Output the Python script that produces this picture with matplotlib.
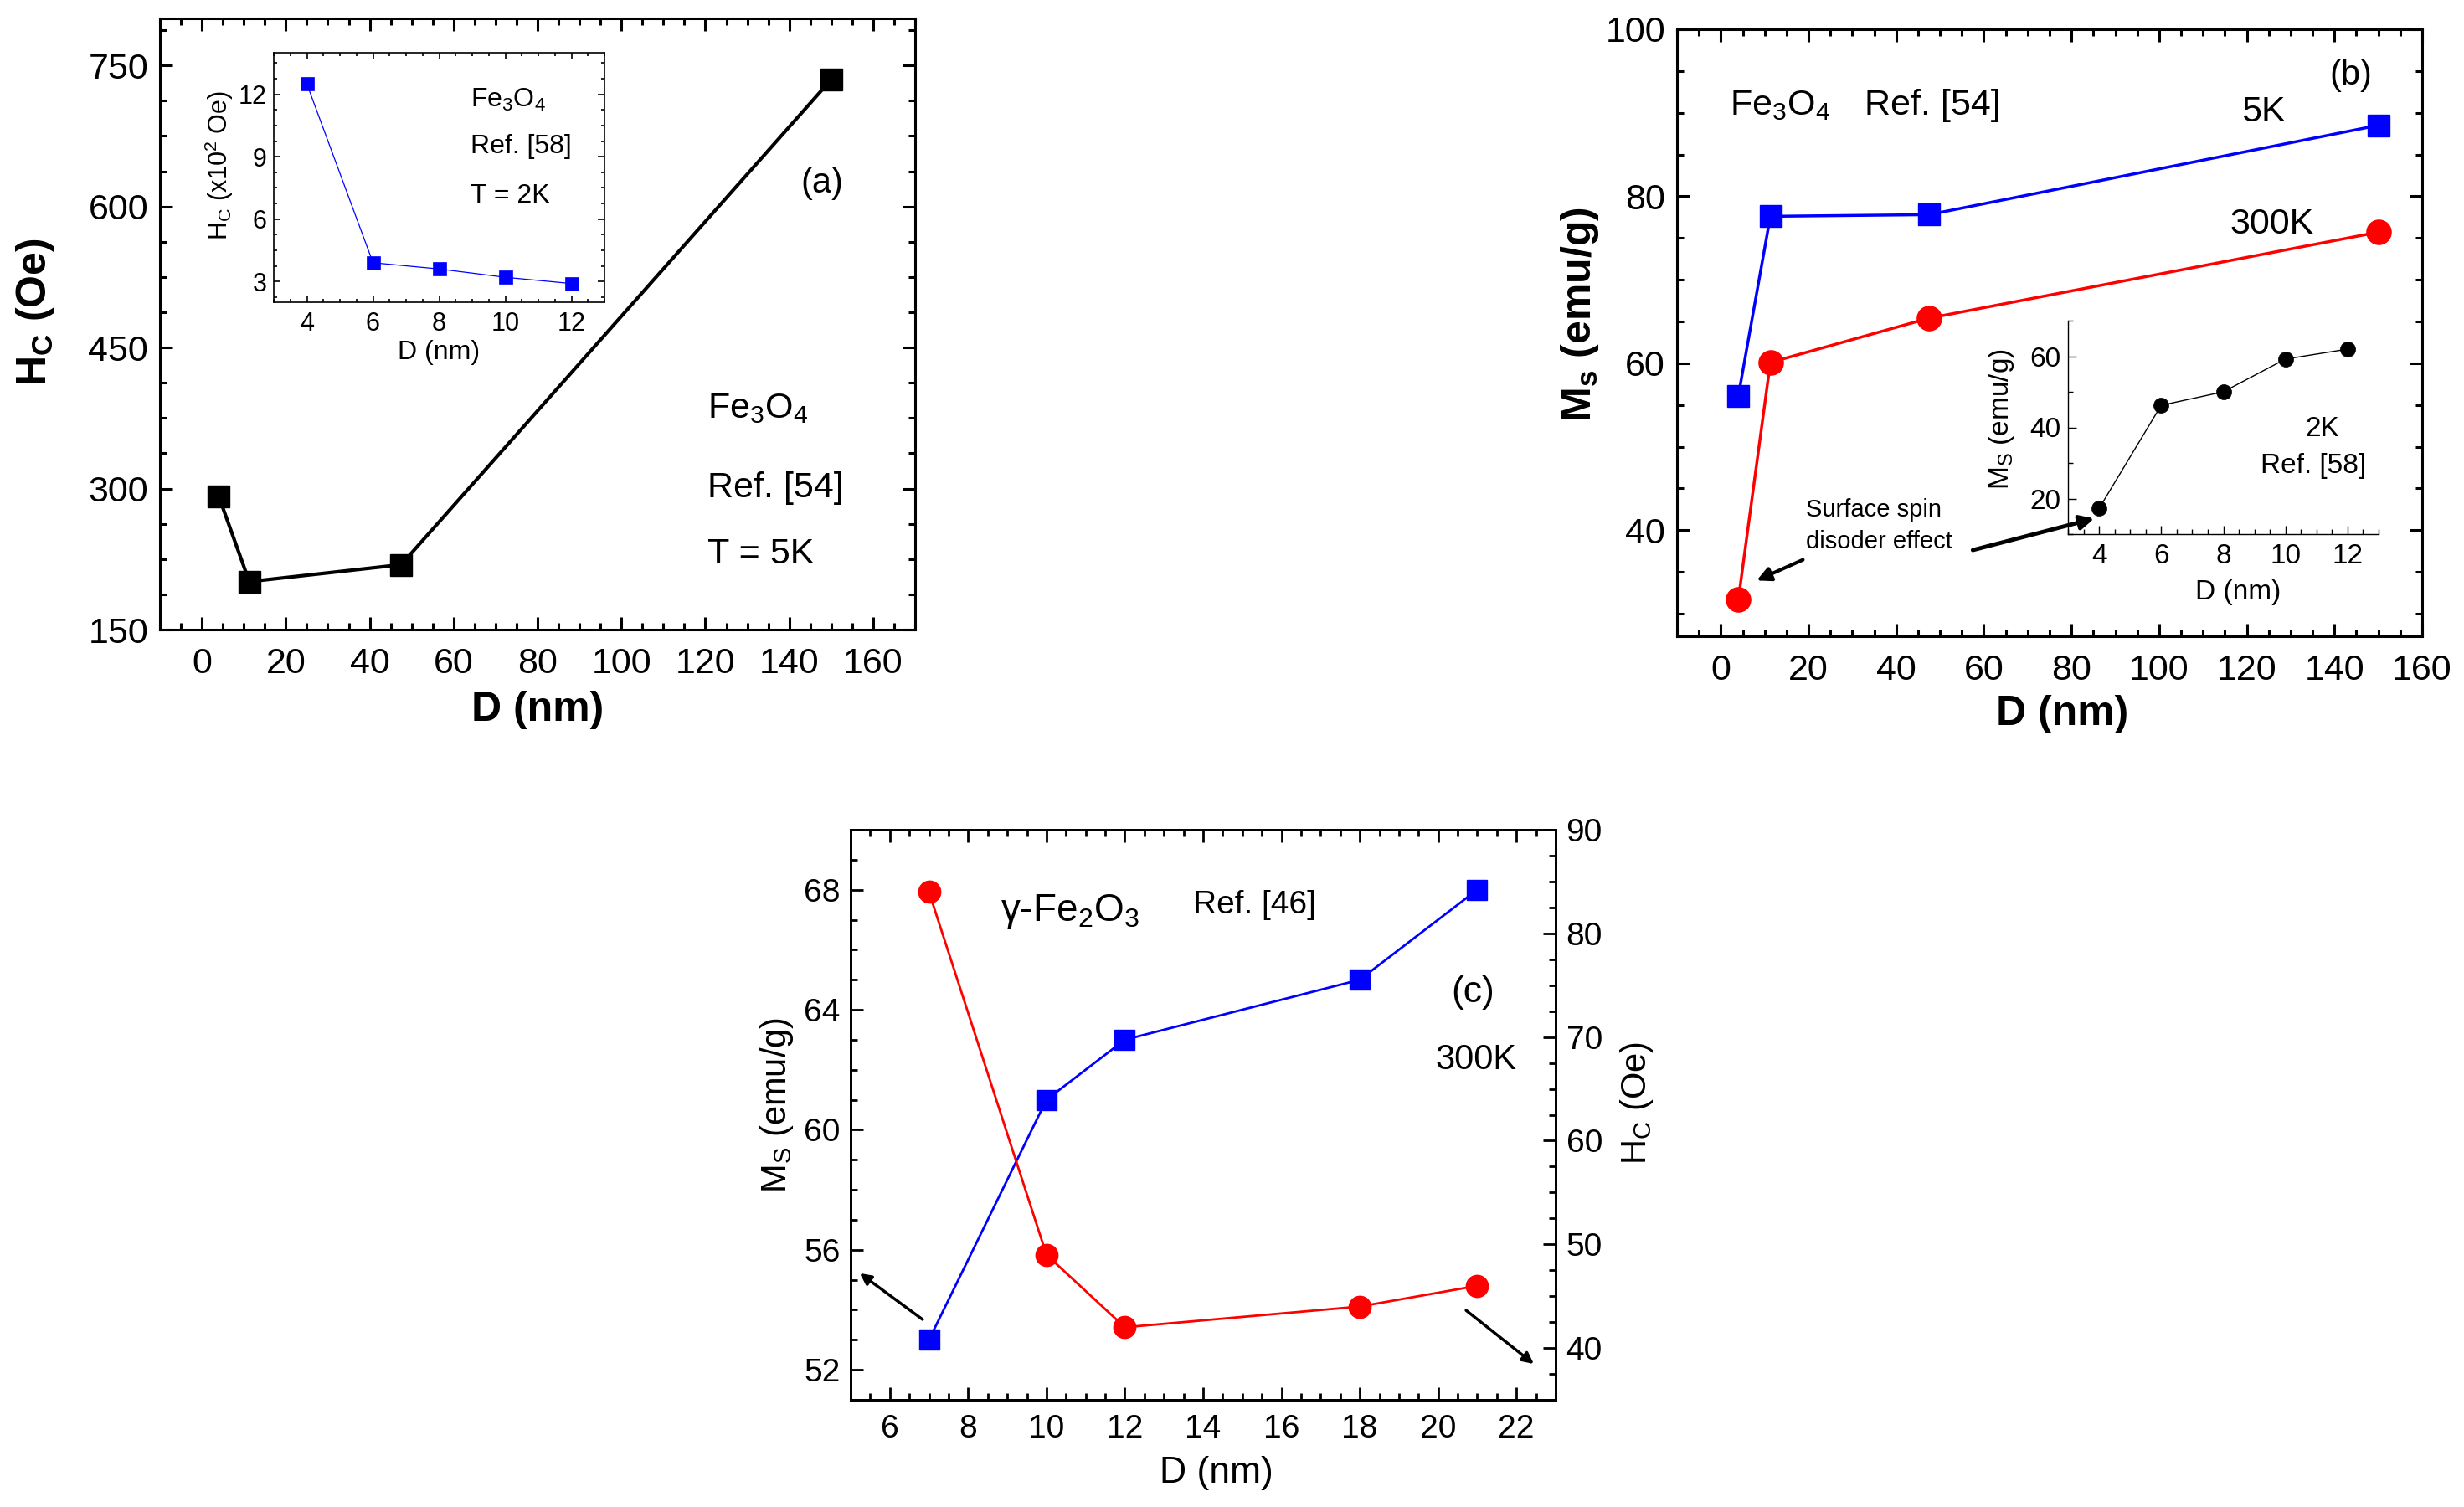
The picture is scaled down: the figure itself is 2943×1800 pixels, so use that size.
import matplotlib
matplotlib.use('Agg')
import matplotlib.pyplot as plt
from matplotlib.ticker import MultipleLocator

plt.rcParams['font.family'] = ['Liberation Sans', 'DejaVu Sans']
plt.rcParams['mathtext.fontset'] = 'custom'
plt.rcParams['mathtext.rm'] = 'Liberation Sans'
plt.rcParams['mathtext.it'] = 'Liberation Sans:italic'
plt.rcParams['mathtext.bf'] = 'Liberation Sans:bold'

# ---------------- data ----------------
# (a) Fe3O4, Ref. [54], T = 5K
a_D = [4, 11.3, 47.5, 150]
a_Hc = [292, 201, 219, 735]
# (a) inset: Fe3O4, Ref. [58], T = 2K
ai_D = [4, 6, 8, 10, 12]
ai_Hc = [12.5, 3.9, 3.6, 3.2, 2.9]
# (b) Fe3O4, Ref. [54]
b_D = [4, 11.3, 47.5, 150]
b_Ms_5K = [56.1, 77.6, 77.8, 88.5]
b_Ms_300K = [31.7, 60.1, 65.4, 75.7]
# (b) inset: 2K, Ref. [58]
bi_D = [4, 6, 8, 10, 12]
bi_Ms = [17.2, 46.2, 50.0, 59.2, 62.0]
# (c) gamma-Fe2O3, Ref. [46], 300K
c_D = [7, 10, 12, 18, 21]
c_Ms = [53, 61, 63, 65, 68]
c_Hc = [84, 49, 42, 44, 46]

BLUE = '#0000FF'
RED = '#FF0000'

W, H = 2943, 1800
fig = plt.figure(figsize=(W / 100, H / 100), dpi=100)


def rect(l, t, r, b):
    return [l / W, 1 - b / H, (r - l) / W, (b - t) / H]


def style(ax, lw, major, minor, size, pad_x, pad_y, right=True, top=True):
    for s in ax.spines.values():
        s.set_linewidth(lw)
    ax.tick_params(which='both', direction='in', top=top, right=right,
                   width=lw, labelsize=size)
    ax.tick_params(which='major', length=major)
    ax.tick_params(which='minor', length=minor)
    ax.tick_params(axis='x', which='both', pad=pad_x)
    ax.tick_params(axis='y', which='both', pad=pad_y)


def arrow(ax, tail, head, lw=3, ms=25):
    ax.annotate('', xy=head, xytext=tail, xycoords='axes fraction',
                textcoords='axes fraction', annotation_clip=False,
                arrowprops=dict(arrowstyle='-|>', color='k', lw=lw,
                                mutation_scale=ms, shrinkA=0, shrinkB=0))


# ---------------- panel (a) ----------------
ax_a = fig.add_axes(rect(191, 22, 1093, 752))
ax_a.plot(a_D, a_Hc, '-s', color='k', lw=3, ms=19, mew=1)
ax_a.set_xlim(-10, 170)
ax_a.set_ylim(150, 800)
ax_a.set_xticks([0, 20, 40, 60, 80, 100, 120, 140, 160])
ax_a.xaxis.set_minor_locator(MultipleLocator(5))
ax_a.set_yticks([150, 300, 450, 600, 750])
ax_a.yaxis.set_minor_locator(MultipleLocator(37.5))
style(ax_a, 2.2, 11, 6, 31, 15, 10)
ax_a.set_xlabel('D (nm)', fontsize=36, fontweight='bold')
ax_a.set_ylabel(r'H$_\mathbf{C}$ (Oe)', fontsize=36, fontweight='bold')
ax_a.xaxis.set_label_coords(0.5, -0.10)
ax_a.yaxis.set_label_coords(-0.137, 0.52)
ax_a.text(0.877, 0.730, '(a)', transform=ax_a.transAxes, fontsize=30,
          ha='center', va='center')
ax_a.text(0.725, 0.347, r'Fe$_3$O$_4$', transform=ax_a.transAxes, fontsize=31,
          ha='left', va='baseline')
ax_a.text(0.725, 0.216, 'Ref. [54]', transform=ax_a.transAxes, fontsize=31,
          ha='left', va='baseline')
ax_a.text(0.725, 0.108, 'T = 5K', transform=ax_a.transAxes, fontsize=31,
          ha='left', va='baseline')

# inset (a)
ax_ai = fig.add_axes(rect(327, 63, 722, 361))
ax_ai.plot(ai_D, ai_Hc, '-s', color=BLUE, lw=0.9, ms=11, mew=0.5)
ax_ai.set_xlim(3, 13)
ax_ai.set_ylim(2, 14)
ax_ai.set_xticks([4, 6, 8, 10, 12])
ax_ai.xaxis.set_minor_locator(MultipleLocator(0.5))
ax_ai.set_yticks([3, 6, 9, 12])
ax_ai.yaxis.set_minor_locator(MultipleLocator(0.75))
style(ax_ai, 1.2, 6, 3, 22, 8, 6)
ax_ai.set_xlabel('D (nm)', fontsize=23)
ax_ai.set_ylabel(r'H$_\mathrm{C}$ (x10$^2$ Oe)', fontsize=22)
ax_ai.xaxis.set_label_coords(0.5, -0.15)
ax_ai.yaxis.set_label_coords(-0.116, 0.547)
ax_ai.text(0.595, 0.782, r'Fe$_3$O$_4$', transform=ax_ai.transAxes,
           fontsize=23, ha='left', va='baseline')
ax_ai.text(0.595, 0.597, 'Ref. [58]', transform=ax_ai.transAxes,
           fontsize=23, ha='left', va='baseline')
ax_ai.text(0.595, 0.399, 'T = 2K', transform=ax_ai.transAxes,
           fontsize=23, ha='left', va='baseline')

# ---------------- panel (b) ----------------
ax_b = fig.add_axes(rect(2003, 35, 2893, 760))
ax_b.plot(b_D, b_Ms_5K, '-s', color=BLUE, lw=2.5, ms=19, mew=1)
ax_b.plot(b_D, b_Ms_300K, '-o', color=RED, lw=2.5, ms=21, mew=1)
ax_b.set_xlim(-10, 160)
ax_b.set_ylim(27.3, 100)
ax_b.set_xticks([0, 20, 40, 60, 80, 100, 120, 140, 160])
ax_b.xaxis.set_minor_locator(MultipleLocator(5))
ax_b.set_yticks([40, 60, 80, 100])
ax_b.yaxis.set_minor_locator(MultipleLocator(5))
style(ax_b, 2.2, 11, 6, 31, 15, 10)
ax_b.set_xlabel('D (nm)', fontsize=36, fontweight='bold')
ax_b.set_ylabel(r'M$_\mathbf{s}$ (emu/g)', fontsize=36, fontweight='bold')
ax_b.xaxis.set_label_coords(0.517, -0.097)
ax_b.yaxis.set_label_coords(-0.102, 0.53)
ax_b.text(0.071, 0.859, r'Fe$_3$O$_4$', transform=ax_b.transAxes, fontsize=31,
          ha='left', va='baseline')
ax_b.text(0.252, 0.859, 'Ref. [54]', transform=ax_b.transAxes, fontsize=31,
          ha='left', va='baseline')
ax_b.text(0.757, 0.848, '5K', transform=ax_b.transAxes, fontsize=31,
          ha='left', va='baseline')
ax_b.text(0.904, 0.924, '(b)', transform=ax_b.transAxes, fontsize=30,
          ha='center', va='center')
ax_b.text(0.742, 0.663, '300K', transform=ax_b.transAxes, fontsize=31,
          ha='left', va='baseline')
ax_b.text(0.173, 0.197, 'Surface spin', transform=ax_b.transAxes, fontsize=21,
          ha='left', va='baseline')
ax_b.text(0.173, 0.145, 'disoder effect', transform=ax_b.transAxes, fontsize=21,
          ha='left', va='baseline')
arrow(ax_b, (0.169, 0.126), (0.107, 0.092), lw=3, ms=25)
arrow(ax_b, (0.397, 0.142), (0.560, 0.194), lw=3.5, ms=25)

# inset (b)
ax_bi = fig.add_axes(rect(2470, 383, 2841, 638))
ax_bi.plot(bi_D, bi_Ms, '-o', color='k', lw=1, ms=13, mew=0.5)
ax_bi.set_xlim(3, 13)
ax_bi.set_ylim(10, 70)
ax_bi.set_xticks([4, 6, 8, 10, 12])
ax_bi.xaxis.set_minor_locator(MultipleLocator(0.5))
ax_bi.set_yticks([20, 40, 60])
ax_bi.yaxis.set_minor_locator(MultipleLocator(10))
ax_bi.spines['top'].set_visible(False)
ax_bi.spines['right'].set_visible(False)
style(ax_bi, 1.0, 7, 4, 24, 8, 6, right=False, top=False)
ax_bi.patch.set_alpha(0)
ax_bi.set_xlabel('D (nm)', fontsize=24)
ax_bi.set_ylabel(r'M$_\mathrm{S}$ (emu/g)', fontsize=24)
ax_bi.xaxis.set_label_coords(0.547, -0.21)
ax_bi.yaxis.set_label_coords(-0.167, 0.54)
ax_bi.text(0.763, 0.459, '2K', transform=ax_bi.transAxes, fontsize=24,
           ha='left', va='baseline')
ax_bi.text(0.620, 0.286, 'Ref. [58]', transform=ax_bi.transAxes, fontsize=24,
           ha='left', va='baseline')

# ---------------- panel (c) ----------------
ax_c = fig.add_axes(rect(1016, 991, 1858, 1672))
ax_c2 = ax_c.twinx()
ax_c.plot(c_D, c_Ms, '-s', color=BLUE, lw=2, ms=17, mew=1)
ax_c2.plot(c_D, c_Hc, '-o', color=RED, lw=2, ms=19, mew=1)
ax_c.set_xlim(5, 23)
ax_c.set_ylim(51, 70)
ax_c2.set_ylim(35, 90)
ax_c.set_xticks([6, 8, 10, 12, 14, 16, 18, 20, 22])
ax_c.xaxis.set_minor_locator(MultipleLocator(0.5))
ax_c.set_yticks([52, 56, 60, 64, 68])
ax_c.yaxis.set_minor_locator(MultipleLocator(1))
ax_c2.set_yticks([40, 50, 60, 70, 80, 90])
ax_c2.yaxis.set_minor_locator(MultipleLocator(2.5))
style(ax_c, 2.0, 11, 6, 28, 12, 9, right=False, top=True)
style(ax_c2, 2.0, 11, 6, 28, 12, 9, right=True, top=False)
ax_c.set_xlabel('D (nm)', fontsize=32)
ax_c.set_ylabel(r'M$_\mathrm{S}$ (emu/g)', fontsize=30)
ax_c2.set_ylabel(r'H$_\mathrm{C}$ (Oe)', fontsize=30)
ax_c.xaxis.set_label_coords(0.519, -0.098)
ax_c.yaxis.set_label_coords(-0.078, 0.517)
ax_c2.yaxis.set_label_coords(1.089, 0.52)
ax_c.text(0.213, 0.840, 'γ-Fe$_2$O$_3$', transform=ax_c.transAxes,
          fontsize=33, ha='left', va='baseline')
ax_c.text(0.486, 0.853, 'Ref. [46]', transform=ax_c.transAxes, fontsize=28,
          ha='left', va='baseline')
ax_c.text(0.882, 0.715, '(c)', transform=ax_c.transAxes, fontsize=32,
          ha='center', va='center')
ax_c.text(0.829, 0.580, '300K', transform=ax_c.transAxes, fontsize=30,
          ha='left', va='baseline')
arrow(ax_c, (0.102, 0.141), (0.013, 0.222), lw=2.5, ms=20)
arrow(ax_c, (0.873, 0.157), (0.969, 0.063), lw=2.5, ms=20)

fig.savefig('out.png', dpi=100)
